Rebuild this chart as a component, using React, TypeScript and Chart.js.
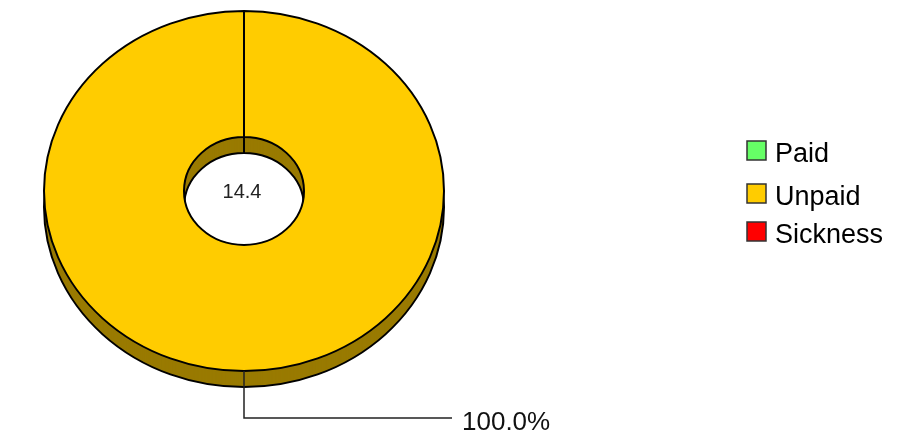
import React, { useEffect, useRef } from "react";
import { Chart, registerables } from "chart.js";

Chart.register(...registerables);

// ---- data ----
const categories = ["Paid", "Unpaid", "Sickness"];
const hours = [0, 14.4, 0];

// ---- styles ----
const topColors = ["#66FF66", "#FFCC00", "#FF0000"];
const sideColors = ["#3D993D", "#997A00", "#990000"];
const FONT = "'Liberation Sans', Arial, Helvetica, sans-serif";
const Y_RATIO = 0.9;
const DEPTH = 16;
const W = 923;
const H = 435;
const legendRowTops = [141, 184, 222];

function ellipse(ctx: CanvasRenderingContext2D, cx: number, cy: number) {
  ctx.translate(cx, cy);
  ctx.scale(1, Y_RATIO);
  ctx.translate(-cx, -cy);
}

function arcPath(ctx: CanvasRenderingContext2D, a: any) {
  ctx.beginPath();
  ctx.arc(a.x, a.y, a.outerRadius, a.startAngle, a.endAngle);
  ctx.arc(a.x, a.y, a.innerRadius, a.endAngle, a.startAngle, true);
  ctx.closePath();
}

const pie3d = {
  id: "pie3d",
  beforeDatasetsDraw(chart: any) {
    const ctx: CanvasRenderingContext2D = chart.ctx;
    const arcs = chart.getDatasetMeta(0).data;
    if (!arcs.length) return;
    const props = arcs.map((a: any) =>
      a.getProps(["x", "y", "startAngle", "endAngle", "innerRadius", "outerRadius", "circumference"], true)
    );
    const cx = props[0].x;
    const cy = props[0].y;
    for (let d = DEPTH; d >= 1; d--) {
      props.forEach((p: any, i: number) => {
        if (!(p.circumference > 0)) return;
        ctx.save();
        ctx.translate(0, d);
        ellipse(ctx, cx, cy);
        arcPath(ctx, p);
        ctx.fillStyle = sideColors[i];
        ctx.fill();
        ctx.restore();
      });
    }
    props.forEach((p: any) => {
      if (!(p.circumference > 0)) return;
      ctx.save();
      ctx.translate(0, DEPTH);
      ellipse(ctx, cx, cy);
      arcPath(ctx, p);
      ctx.lineWidth = 2;
      ctx.strokeStyle = "#000";
      ctx.stroke();
      ctx.restore();
    });
    ctx.save();
    ellipse(ctx, cx, cy);
  },
  afterDatasetsDraw(chart: any) {
    const ctx: CanvasRenderingContext2D = chart.ctx;
    ctx.restore();
    const meta = chart.getDatasetMeta(0);
    const arcs = meta.data;
    if (!arcs.length) return;
    const values: number[] = chart.data.datasets[0].data;
    const total = values.reduce((s, v) => s + v, 0);
    const cx = arcs[0].x;
    const cy = arcs[0].y;

    // centre total
    ctx.save();
    ctx.fillStyle = "#222";
    ctx.font = `20px ${FONT}`;
    ctx.textAlign = "center";
    ctx.textBaseline = "alphabetic";
    ctx.fillText(String(total), cx - 2, cy + 7);
    ctx.restore();

    // slice labels with leader lines
    arcs.forEach((a: any, i: number) => {
      if (!(a.circumference > 0)) return;
      const mid = (a.startAngle + a.endAngle) / 2;
      const px = a.x + a.outerRadius * Math.cos(mid);
      const py = a.y + a.outerRadius * Y_RATIO * Math.sin(mid);
      const ly = py + 47;
      ctx.save();
      ctx.strokeStyle = "#222";
      ctx.lineWidth = 1.5;
      ctx.beginPath();
      ctx.moveTo(px, py);
      ctx.lineTo(px, ly);
      ctx.lineTo(px + 208, ly);
      ctx.stroke();
      ctx.fillStyle = "#111";
      ctx.font = `26px ${FONT}`;
      ctx.textAlign = "left";
      ctx.textBaseline = "alphabetic";
      ctx.fillText(((values[i] / total) * 100).toFixed(1) + "%", px + 218, ly + 11.5);
      ctx.restore();
    });
  },
  afterDraw(chart: any) {
    const ctx: CanvasRenderingContext2D = chart.ctx;
    const labels: string[] = chart.data.labels;
    ctx.save();
    labels.forEach((lab, i) => {
      const top = legendRowTops[i];
      ctx.fillStyle = topColors[i];
      ctx.fillRect(747, top, 19, 19);
      ctx.strokeStyle = "#333";
      ctx.lineWidth = 1.5;
      ctx.strokeRect(747, top, 19, 19);
      ctx.fillStyle = "#000";
      ctx.font = `27px ${FONT}`;
      ctx.textAlign = "left";
      ctx.textBaseline = "alphabetic";
      ctx.fillText(lab, 775, top + 20.5);
    });
    ctx.restore();
  },
};

export default function App() {
  const ref = useRef<HTMLCanvasElement | null>(null);
  useEffect(() => {
    if (!ref.current) return;
    const chart = new Chart(ref.current, {
      type: "doughnut",
      data: {
        labels: categories,
        datasets: [
          {
            data: hours,
            backgroundColor: topColors,
            borderColor: "#000",
            borderWidth: 2,
            clip: false as any,
          },
        ],
      },
      options: {
        animation: false,
        responsive: false,
        devicePixelRatio: 1,
        events: [],
        radius: 200,
        cutout: "30%",
        layout: { padding: { left: 0, top: 0, right: W - 488, bottom: H - 382 } },
        plugins: {
          legend: { display: false },
          tooltip: { enabled: false },
        },
      } as any,
      plugins: [pie3d as any],
    });
    return () => chart.destroy();
  }, []);
  return (
    <div style={{ position: "fixed", left: 0, top: 0, width: W, height: H, background: "#fff" }}>
      <canvas ref={ref} width={W} height={H} style={{ width: W, height: H, display: "block" }} />
    </div>
  );
}
